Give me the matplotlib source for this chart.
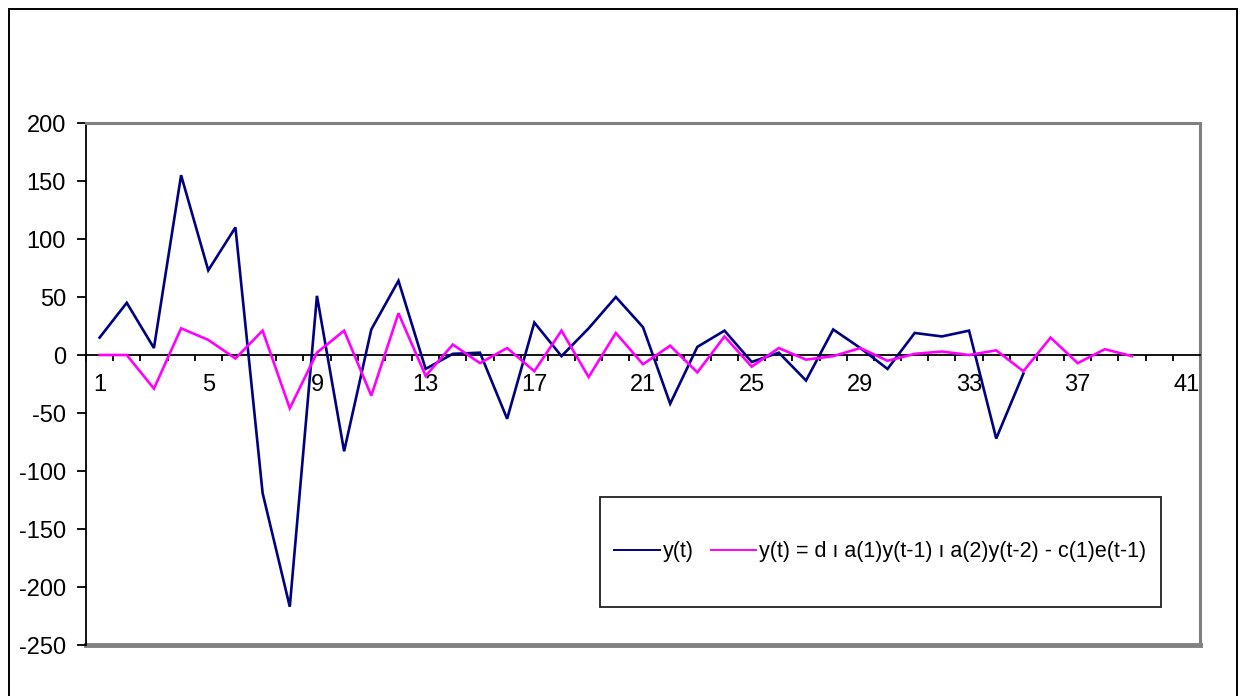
import matplotlib
matplotlib.use("Agg")
import matplotlib.pyplot as plt
from matplotlib.patches import Rectangle
from matplotlib.lines import Line2D

plt.rcParams['font.family'] = ['Liberation Sans', 'DejaVu Sans']

# ---- data ----
t_actual = list(range(1, 36))
y_actual = [15, 45, 6, 155, 73, 110, -119, -217, 51, -83, 22, 64, -12, 1, 2,
            -55, 28, -1, 23, 50, 24, -42, 7, 21, -6, 2, -22, 22, 6, -12,
            19, 16, 21, -72, -16]
t_model = list(range(1, 40))
y_model = [0, 0, -29, 23, 13, -3, 21, -46, 2, 21, -35, 36, -18, 9, -7,
           6, -14, 21, -19, 19, -8, 8, -15, 16, -10, 6, -4, -1, 6, -5,
           1, 3, 0, 4, -14, 15, -7, 5, -1]
x_tick_labels = [str(i) for i in range(1, 42, 4)]
y_ticks = [200, 150, 100, 50, 0, -50, -100, -150, -200, -250]
n_categories = 41
series_names = ["y(t)", "y(t) = d \u0131 a(1)y(t-1) \u0131 a(2)y(t-2) - c(1)e(t-1)"]
colors = ["#000080", "#FF00FF"]

W, H = 1240, 696
fig = plt.figure(figsize=(W / 100, H / 100), dpi=100)
fig.patch.set_facecolor("white")

# outer chart border
fig.add_artist(Rectangle((9 / W, -0.05), (1237 - 9) / W, (H - 9) / H + 0.05,
                         transform=fig.transFigure, fill=False,
                         edgecolor="black", lw=1.4))

left, right, top, bottom = 86, 1200, 123, 645
ax = fig.add_axes([left / W, (H - bottom) / H, (right - left) / W, (bottom - top) / H])

ax.plot(t_actual, y_actual, color=colors[0], lw=1.9, label=series_names[0],
        solid_joinstyle="miter", zorder=3)
ax.plot(t_model, y_model, color=colors[1], lw=1.9, label=series_names[1],
        solid_joinstyle="miter", zorder=3)

ax.set_xlim(0.5, n_categories + 0.5)
ax.set_ylim(-250, 200)

# plot area border (gray)
for s in ["top", "right"]:
    ax.spines[s].set_color("#808080")
    ax.spines[s].set_linewidth(2.2)
ax.spines["left"].set_color("black")
ax.spines["left"].set_linewidth(1.3)
ax.spines["bottom"].set_position(("data", 0))
ax.spines["bottom"].set_color("black")
ax.spines["bottom"].set_linewidth(1.3)
ax.axhline(-250, color="#808080", lw=3.5, clip_on=False, zorder=0)

ax.set_yticks(y_ticks)
ax.set_yticklabels([str(v) for v in y_ticks])
ax.tick_params(axis="y", direction="out", length=6.5, width=1.3, pad=8,
               labelsize=17, colors="black")

major = list(range(1, n_categories + 1, 4))
ax.set_xticks(major)
ax.set_xticklabels(x_tick_labels)
ax.set_xticks([i + 0.5 for i in range(0, n_categories + 1)], minor=True)
ax.tick_params(axis="x", which="major", length=0, pad=14, labelsize=17)
ax.tick_params(axis="x", which="minor", direction="out", length=4, width=1.3)

# legend box
lx0, ly0, lx1, ly1 = 600, 497, 1161, 607
fig.add_artist(Rectangle((lx0 / W, (H - ly1) / H), (lx1 - lx0) / W, (ly1 - ly0) / H,
                         transform=fig.transFigure, fill=False,
                         edgecolor="#202020", lw=1.3))
handles = [Line2D([], [], color=c, lw=1.4) for c in colors]
fig.legend(handles, series_names, loc="center",
           bbox_to_anchor=((lx0 + lx1) / 2 / W, (H - (ly0 + ly1) / 2) / H),
           ncol=2, frameon=False, fontsize=15.5, handlelength=2.1,
           handletextpad=0.15, columnspacing=0.8)

fig.savefig("out.png", dpi=100, facecolor="white")
